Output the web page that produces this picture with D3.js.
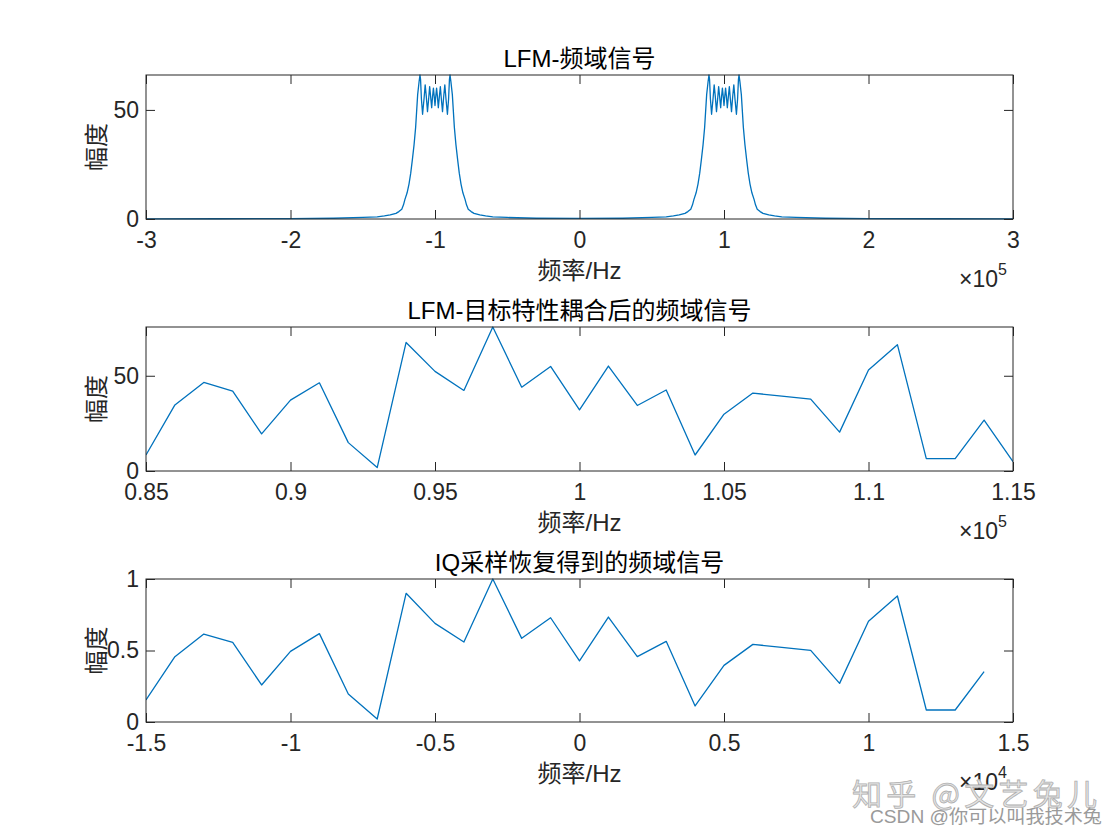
<!DOCTYPE html>
<html><head><meta charset="utf-8">
<script src="https://cdn.jsdelivr.net/npm/d3@7"></script>
<style>
body{margin:0;background:#fff}
text{font-family:"Liberation Sans","Noto Sans CJK SC",sans-serif}
</style>
</head><body>
<svg id="c" width="1120" height="840"></svg>
<script>
// ---------- data ----------
// Panel 1: LFM spectrum (frequency in kHz, magnitude)
const specFreqK = [-300,-250,-200,-170,-150,-145,-140,-135,-131,-127,-125,-123,-121.8,-120.8,-119.3,-118,-116.8,-115.7,-114.5,-113.4,-112,-111,-110.4,-110,-109.4,-108.6,-107.6,-106.8,-106,-105.2,-104.4,-103.7,-103,-102.3,-101.7,-101.1,-100.5,-100,-99.5,-98.9,-98.3,-97.7,-97,-96.3,-95.6,-94.8,-94,-93.2,-92.4,-91.4,-90.6,-90,-89.6,-89,-88,-86.6,-85.5,-84.3,-83.2,-82,-80.7,-79.2,-78.2,-77,-75,-73,-69,-65,-60,-55,-50,-30,0,
  30,50,55,60,65,69,73,75,77,78.2,79.2,80.7,82,83.2,84.3,85.5,86.6,88,89,89.6,90,90.6,91.4,92.4,93.2,94,94.8,95.6,96.3,97,97.7,98.3,98.9,99.5,100,100.5,101.1,101.7,102.3,103,103.7,104.4,105.2,106,106.8,107.6,108.6,109.4,110,110.4,111,112,113.4,114.5,115.7,116.8,118,119.3,120.8,121.8,123,125,127,131,135,140,145,150,170,200,250,300];
const specMag = [0.08,0.12,0.2,0.35,0.7,0.85,1.0,1.4,1.9,2.6,3.4,4.5,6.5,9,12,16,21,27,34,42,57,63,66,64,55,48,55,61.5,56,49.2,55,60.7,56,51,56,60,56,52,56,60,56,51,56,60.7,55,49.2,56,61.5,55,48,55,64,66,63,57,42,34,27,21,16,12,9,6.5,4.5,3.4,2.6,1.9,1.4,1.0,0.85,0.7,0.35,0.25,
  0.35,0.7,0.85,1.0,1.4,1.9,2.6,3.4,4.5,6.5,9,12,16,21,27,34,42,57,63,66,64,55,48,55,61.5,56,49.2,55,60.7,56,51,56,60,56,52,56,60,56,51,56,60.7,55,49.2,56,61.5,55,48,55,64,66,63,57,42,34,27,21,16,12,9,6.5,4.5,3.4,2.6,1.9,1.4,1.0,0.85,0.7,0.35,0.2,0.12,0.08];

// Panel 2: after target coupling (Hz, magnitude)
const midFreq = [85000,86000,87000,88000,89000,90000,91000,92000,93000,94000,95000,96000,97000,98000,99000,100000,101000,102000,103000,104000,105000,106000,107000,108000,109000,110000,111000,112000,113000,114000,115000];
const midMag = [8.4,34.7,46.5,41.9,19.5,37.2,46.3,14.9,1.8,67.5,52.3,42.3,75.6,44.0,54.9,32.1,55.1,34.4,42.5,8.4,29.8,40.9,39.3,37.7,20.4,53.0,66.3,6.5,6.5,26.7,4.9];

// Panel 3: IQ sampling recovered (Hz, normalized magnitude)
const iqFreq = [-15000,-14000,-13000,-12000,-11000,-10000,-9000,-8000,-7000,-6000,-5000,-4000,-3000,-2000,-1000,0,1000,2000,3000,4000,5000,6000,7000,8000,9000,10000,11000,12000,13000,14000];
const iqMag = [0.154,0.457,0.615,0.557,0.259,0.494,0.618,0.196,0.021,0.900,0.690,0.559,1.0,0.585,0.729,0.427,0.734,0.457,0.564,0.112,0.396,0.543,0.522,0.501,0.270,0.704,0.881,0.084,0.084,0.352];

const titles = ["LFM-频域信号","LFM-目标特性耦合后的频域信号","IQ采样恢复得到的频域信号"];
const xLabel = "频率/Hz";
const yLabel = "幅度";
const xTicks1 = [-300000,-200000,-100000,0,100000,200000,300000];
const xTickLabels1 = ["-3","-2","-1","0","1","2","3"];
const xTicks2 = [85000,90000,95000,100000,105000,110000,115000];
const xTickLabels2 = ["0.85","0.9","0.95","1","1.05","1.1","1.15"];
const xTicks3 = [-15000,-10000,-5000,0,5000,10000,15000];
const xTickLabels3 = ["-1.5","-1","-0.5","0","0.5","1","1.5"];
const yTicks1 = [0,50], yTickLabels1 = ["0","50"];
const yTicks2 = [0,50], yTickLabels2 = ["0","50"];
const yTicks3 = [0,0.5,1], yTickLabels3 = ["0","0.5","1"];
const exponents = ["5","5","4"];

// ---------- drawing ----------
const svg = d3.select("#c");
svg.append("rect").attr("width",1120).attr("height",840).attr("fill","#fff");
const L = 146, R = 1013;
const axisColor = "#262626";
const lineColor = "#0072BD";

const panels = [
  {top:75, bottom:219, xs:specFreqK.map(v=>v*1000), ys:specMag, xd:[-300000,300000], yd:[0,66],
   xt:xTicks1, xtl:xTickLabels1, yt:yTicks1, ytl:yTickLabels1},
  {top:327, bottom:471, xs:midFreq, ys:midMag, xd:[85000,115000], yd:[0,75.6],
   xt:xTicks2, xtl:xTickLabels2, yt:yTicks2, ytl:yTickLabels2},
  {top:579, bottom:722, xs:iqFreq, ys:iqMag, xd:[-15000,15000], yd:[0,1],
   xt:xTicks3, xtl:xTickLabels3, yt:yTicks3, ytl:yTickLabels3}
];

panels.forEach((p,i)=>{
  const x = d3.scaleLinear().domain(p.xd).range([L,R]);
  const y = d3.scaleLinear().domain(p.yd).range([p.bottom,p.top]);
  const g = svg.append("g");
  const cid = "clip"+i;
  g.append("clipPath").attr("id",cid).append("rect")
    .attr("x",L).attr("y",p.top-1).attr("width",R-L).attr("height",p.bottom-p.top+2);

  const pts = p.xs.map((v,k)=>[v,p.ys[k]]);
  g.append("path").datum(pts)
    .attr("clip-path",`url(#${cid})`)
    .attr("fill","none").attr("stroke",lineColor).attr("stroke-width",1.3)
    .attr("stroke-linejoin","round")
    .attr("d", d3.line().x(d=>x(d[0])).y(d=>y(d[1])));

  const fmtX = (d)=>p.xtl[p.xt.indexOf(d)];
  const fmtY = (d)=>p.ytl[p.yt.indexOf(d)];

  const ax = [
    g.append("g").attr("transform",`translate(0,${p.bottom})`)
      .call(d3.axisBottom(x).tickValues(p.xt).tickSize(-9).tickPadding(13).tickFormat(fmtX)),
    g.append("g").attr("transform",`translate(0,${p.top})`)
      .call(d3.axisTop(x).tickValues(p.xt).tickSize(-9).tickFormat("")),
    g.append("g").attr("transform",`translate(${L},0)`)
      .call(d3.axisLeft(y).tickValues(p.yt).tickSize(-9).tickPadding(7).tickFormat(fmtY)),
    g.append("g").attr("transform",`translate(${R},0)`)
      .call(d3.axisRight(y).tickValues(p.yt).tickSize(-9).tickFormat(""))
  ];
  ax.forEach(a=>{
    a.select(".domain").remove();
    a.selectAll("line").attr("stroke",axisColor).attr("stroke-width",1);
    a.selectAll("text").attr("fill",axisColor).style("font-size","23px")
      .style("font-family",'"Liberation Sans",sans-serif');
  });

  g.append("rect").attr("x",L).attr("y",p.top).attr("width",R-L).attr("height",p.bottom-p.top)
    .attr("fill","none").attr("stroke",axisColor).attr("stroke-width",1);

  // title
  g.append("text").attr("x",(L+R)/2).attr("y",p.top-8).attr("text-anchor","middle")
    .attr("fill","#000").style("font-size","24px").text(titles[i]);
  // x label
  g.append("text").attr("x",(L+R)/2).attr("y",p.bottom+60).attr("text-anchor","middle")
    .attr("fill",axisColor).style("font-size","24px").text(xLabel);
  // y label
  g.append("text").attr("transform",`translate(96,${(p.top+p.bottom)/2}) rotate(-90)`)
    .attr("text-anchor","middle").attr("dominant-baseline","central")
    .attr("fill",axisColor).style("font-size","24px").text(yLabel);
  // exponent
  const ex = g.append("text").attr("x",959).attr("y",p.bottom+68).attr("fill",axisColor)
    .style("font-size","23px").style("font-family",'"Liberation Sans",sans-serif');
  ex.append("tspan").text("×10");
  ex.append("tspan").attr("dy",-12).style("font-size","16px").text(exponents[i]);
});

// watermarks
svg.append("text").attr("x",852).attr("y",805).attr("textLength",245).attr("lengthAdjust","spacing")
  .attr("fill","#e4e4e4").attr("stroke","#b0b0b0").attr("stroke-width",0.8)
  .style("font-size","30px").style("font-family",'"Noto Sans CJK SC",sans-serif')
  .text("知乎 @文艺兔儿");
svg.append("text").attr("x",870).attr("y",823).attr("textLength",232).attr("lengthAdjust","spacingAndGlyphs")
  .attr("fill","#9a9a9a")
  .style("font-size","18px").style("font-family",'"Liberation Sans","Noto Sans CJK SC",sans-serif')
  .text("CSDN @你可以叫我技术兔");
</script>
</body></html>
